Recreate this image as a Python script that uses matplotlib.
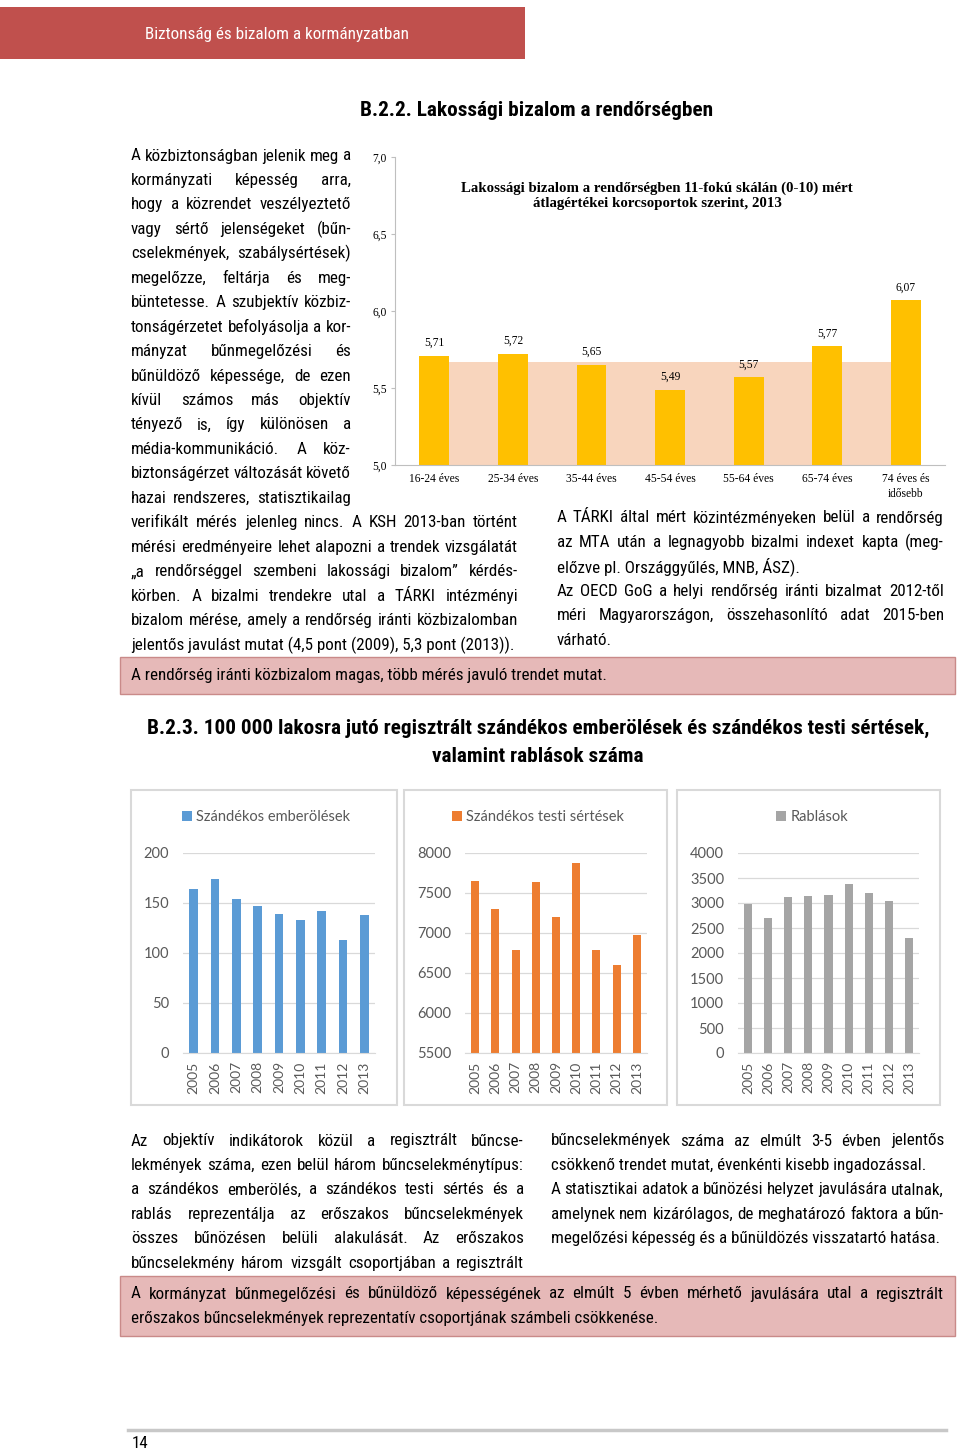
import matplotlib
matplotlib.use('Agg')
import matplotlib.pyplot as plt
from matplotlib import font_manager
from matplotlib.patches import Rectangle
from matplotlib.lines import Line2D

# ---------------- data ----------------
age_groups = ['16-24 éves', '25-34 éves', '35-44 éves', '45-54 éves',
              '55-64 éves', '65-74 éves', '74 éves és\nidősebb']
trust_values = [5.71, 5.72, 5.65, 5.49, 5.57, 5.77, 6.07]
trust_labels = ['5,71', '5,72', '5,65', '5,49', '5,57', '5,77', '6,07']
trust_avg = 5.67
trust_yticks = [5.0, 5.5, 6.0, 6.5, 7.0]
trust_yticklabels = ['5,0', '5,5', '6,0', '6,5', '7,0']

years = ['2005', '2006', '2007', '2008', '2009', '2010', '2011', '2012', '2013']
homicides = [164, 174, 154, 147, 139, 133, 142, 113, 138]
assaults = [7646, 7304, 6792, 7638, 7196, 7871, 6792, 6596, 6971]
robberies = [2987, 2707, 3113, 3133, 3160, 3387, 3193, 3040, 2293]
hom_ticks = [0, 50, 100, 150, 200]
ass_ticks = [5500, 6000, 6500, 7000, 7500, 8000]
rob_ticks = [0, 500, 1000, 1500, 2000, 2500, 3000, 3500, 4000]

header_text = 'Biztonság és bizalom a kormányzatban'
title1 = 'B.2.2. Lakossági bizalom a rendőrségben'
title2a = 'B.2.3. 100 000 lakosra jutó regisztrált szándékos emberölések és szándékos testi sértések,'
title2b = 'valamint rablások száma'
chart1_title = ['Lakossági bizalom a rendőrségben 11-fokú skálán (0-10) mért',
                'átlagértékei korcsoportok szerint, 2013']

left_par = [
    ('A közbiztonságban jelenik meg a', True),
    ('kormányzati képesség arra,', True),
    ('hogy a közrendet veszélyeztető', True),
    ('vagy sértő jelenségeket (bűn-', True),
    ('cselekmények, szabálysértések)', True),
    ('megelőzze, feltárja és meg-', True),
    ('büntetesse. A szubjektív közbiz-', True),
    ('tonságérzetet befolyásolja a kor-', True),
    ('mányzat bűnmegelőzési és', True),
    ('bűnüldöző képessége, de ezen', True),
    ('kívül számos más objektív', True),
    ('tényező is, így különösen a', True),
    ('média-kommunikáció. A köz-', True),
    ('biztonságérzet változását követő', True),
    ('hazai rendszeres, statisztikailag', True),
    ('verifikált mérés jelenleg nincs. A KSH 2013-ban történt', True),
    ('mérési eredményeire lehet alapozni a trendek vizsgálatát', True),
    ('„a rendőrséggel szembeni lakossági bizalom” kérdés-', True),
    ('körben. A bizalmi trendekre utal a TÁRKI intézményi', True),
    ('bizalom mérése, amely a rendőrség iránti közbizalomban', True),
    ('jelentős javulást mutat (4,5 pont (2009), 5,3 pont (2013)).', False),
]
right_par = [
    ('A TÁRKI által mért közintézményeken belül a rendőrség', True),
    ('az MTA után a legnagyobb bizalmi indexet kapta (meg-', True),
    ('előzve pl. Országgyűlés, MNB, ÁSZ).', False),
    ('Az OECD GoG a helyi rendőrség iránti bizalmat 2012-től', True),
    ('méri Magyarországon, összehasonlító adat 2015-ben', True),
    ('várható.', False),
]
box1_text = 'A rendőrség iránti közbizalom magas, több mérés javuló trendet mutat.'
bottom_left = [
    ('Az objektív indikátorok közül a regisztrált bűncse-', True),
    ('lekmények száma, ezen belül három bűncselekménytípus:', True),
    ('a szándékos emberölés, a szándékos testi sértés és a', True),
    ('rablás reprezentálja az erőszakos bűncselekmények', True),
    ('összes bűnözésen belüli alakulását. Az erőszakos', True),
    ('bűncselekmény három vizsgált csoportjában a regisztrált', True),
]
bottom_right = [
    ('bűncselekmények száma az elmúlt 3-5 évben jelentős', True),
    ('csökkenő trendet mutat, évenkénti kisebb ingadozással.', False),
    ('A statisztikai adatok a bűnözési helyzet javulására utalnak,', True),
    ('amelynek nem kizárólagos, de meghatározó faktora a bűn-', True),
    ('megelőzési képesség és a bűnüldözés visszatartó hatása.', False),
]
box2_lines = [
    ('A kormányzat bűnmegelőzési és bűnüldöző képességének az elmúlt 5 évben mérhető javulására utal a regisztrált', True),
    ('erőszakos bűncselekmények reprezentatív csoportjának számbeli csökkenése.', False),
]
page_number = '14'

# ---------------- setup ----------------
W, H = 960, 1450
fig = plt.figure(figsize=(W / 100, H / 100), dpi=100)
fig.patch.set_facecolor('white')
renderer = fig.canvas.get_renderer()

names = {f.name for f in font_manager.fontManager.ttflist}
def fam(*cands):
    lst = [c for c in cands if c in names]
    return lst + ['DejaVu Sans'] if lst else ['DejaVu Sans']

NARROW = fam('Liberation Sans Narrow', 'Arial Narrow', 'Roboto Condensed', 'Liberation Sans')
SERIF = fam('Liberation Serif', 'DejaVu Serif')
CAL = fam('Lato', 'Open Sans', 'Liberation Sans')
GRAY = '#595959'
DY = 2  # baseline correction in px

def fx(x): return x / W
def fy(y): return 1 - y / H

def width_of(s, size, family, weight='normal'):
    t = fig.text(0, 0, s, fontsize=size, family=family, weight=weight)
    w = t.get_window_extent(renderer).width
    t.remove()
    return w

def fit_size(s, target, family, weight='normal', base=12):
    return base * target / width_of(s, base, family, weight)

def put_line(s, x0, y, size, x1=None, justify=False, family=NARROW,
             color='black', weight='normal', ha='left'):
    y = y + DY
    if not justify:
        fig.text(fx(x0), fy(y), s, ha=ha, va='center', fontsize=size,
                 family=family, color=color, weight=weight)
        return
    words = s.split(' ')
    ws = [width_of(w, size, family, weight) for w in words]
    gap = (x1 - x0 - sum(ws)) / max(len(words) - 1, 1)
    x = x0
    for w, wd in zip(words, ws):
        fig.text(fx(x), fy(y), w, ha='left', va='center', fontsize=size,
                 family=family, color=color, weight=weight)
        x += wd + gap

BODY = fit_size('jelentős javulást mutat (4,5 pont (2009), 5,3 pont (2013)).', 383, NARROW)
TITLE = fit_size(title2a, 783, NARROW, 'bold')
LS = 24.45

# ---------------- header ----------------
fig.patches.append(Rectangle((0, fy(59)), fx(525), (59 - 7) / H,
                             transform=fig.transFigure, facecolor='#C0504D',
                             edgecolor='none'))
hsize = fit_size(header_text, 263, NARROW)
put_line(header_text, 145, 32, hsize, color='white')

put_line(title1, 360, 109, TITLE, weight='bold')

# ---------------- paragraphs ----------------
for i, (s, j) in enumerate(left_par):
    x1 = 351 if i < 15 else 518
    put_line(s, 131, 154 + i * LS, BODY, x1=x1, justify=j)
for i, (s, j) in enumerate(right_par):
    put_line(s, 557, 516 + i * LS, BODY, x1=944, justify=j)

fig.patches.append(Rectangle((fx(120), fy(694)), (955 - 120) / W, (694 - 657) / H,
                             transform=fig.transFigure, facecolor='#E6B9B8',
                             edgecolor='#C98A89', linewidth=1))
put_line(box1_text, 131, 674, BODY)

# ---------------- top chart ----------------
ax1 = fig.add_axes([fx(395), fy(465), (945 - 395) / W, (465 - 157) / H])
xs = list(range(len(age_groups)))
ax1.fill_between([xs[0], xs[-1]], [5.0, 5.0], [trust_avg, trust_avg],
                 color='#F8D5BD', linewidth=0, zorder=1)
bars = ax1.bar(xs, trust_values, width=0.38, color='#FFC000', zorder=2)
for b, lab in zip(bars, trust_labels):
    ax1.annotate(lab, (b.get_x() + b.get_width() / 2, b.get_height()),
                 xytext=(0, 5), textcoords='offset points', ha='center',
                 va='bottom', fontsize=8.3, family=SERIF)
ax1.set_ylim(5.0, 7.0)
ax1.set_xlim(-0.5, 6.5)
ax1.set_yticks(trust_yticks)
ax1.set_yticklabels(trust_yticklabels, family=SERIF, fontsize=8.3)
ax1.set_xticks(xs)
ax1.set_xticklabels(age_groups, family=SERIF, fontsize=8.3, linespacing=1.25)
ax1.tick_params(axis='x', length=0, pad=6)
ax1.tick_params(axis='y', length=3, color='#BFBFBF', pad=3)
for sp in ['top', 'right']:
    ax1.spines[sp].set_visible(False)
for sp in ['left', 'bottom']:
    ax1.spines[sp].set_color('#BFBFBF')
ax1.patch.set_alpha(0)
ctsize = fit_size(chart1_title[0], 392, SERIF, 'bold', base=10)
put_line(chart1_title[0], 657, 186, ctsize, family=SERIF, weight='bold', ha='center')
put_line(chart1_title[1], 657, 202, ctsize, family=SERIF, weight='bold', ha='center')

# ---------------- B.2.3 ----------------
put_line(title2a, 538, 726, TITLE, weight='bold', ha='center')
put_line(title2b, 538, 755, TITLE, weight='bold', ha='center')

panels = [
    (131, 397, 183, 375, homicides, hom_ticks, '#5B9BD5', 'Szándékos emberölések', 266),
    (404, 667, 465, 647, assaults, ass_ticks, '#ED7D31', 'Szándékos testi sértések', 538),
    (677, 940, 738, 919, robberies, rob_ticks, '#A5A5A5', 'Rablások', 812),
]
for (bx0, bx1, px0, px1, vals, ticks, col, name, lx) in panels:
    fig.patches.append(Rectangle((fx(bx0), fy(1105)), (bx1 - bx0) / W, (1105 - 790) / H,
                                 transform=fig.transFigure, facecolor='none',
                                 edgecolor='#D9D9D9', linewidth=1.5))
    ax = fig.add_axes([fx(px0), fy(1053), (px1 - px0) / W, 200 / H])
    bc = ax.bar(range(len(years)), vals, width=0.4, color=col, zorder=2,
                label=name)
    ax.set_ylim(ticks[0], ticks[-1])
    ax.set_xlim(-0.5, len(years) - 0.5)
    ax.set_yticks(ticks)
    ax.set_yticklabels([str(t) for t in ticks], family=CAL, fontsize=10.5, color=GRAY)
    ax.set_xticks(range(len(years)))
    ax.set_xticklabels(years, rotation=90, family=CAL, fontsize=10, color=GRAY)
    ax.tick_params(length=0)
    ax.tick_params(axis='y', pad=10)
    ax.tick_params(axis='x', pad=6)
    ax.grid(axis='y', color='#D9D9D9', linewidth=0.9, zorder=0)
    ax.set_axisbelow(True)
    for sp in ['top', 'right', 'left']:
        ax.spines[sp].set_visible(False)
    ax.spines['bottom'].set_color('#D9D9D9')
    ax.patch.set_alpha(0)
    ax.legend(handles=[bc], loc='center', bbox_to_anchor=(fx(lx), fy(817)),
              bbox_transform=fig.transFigure, frameon=False,
              handlelength=0.7, handleheight=0.7, handletextpad=0.3,
              prop={'family': CAL, 'size': 10.5}, labelcolor=GRAY)

# ---------------- bottom text ----------------
for i, (s, j) in enumerate(bottom_left):
    put_line(s, 131, 1139 + i * LS, BODY, x1=524, justify=j)
for i, (s, j) in enumerate(bottom_right):
    put_line(s, 551, 1139 + i * LS, BODY, x1=944, justify=j)

fig.patches.append(Rectangle((fx(120), fy(1336)), (955 - 120) / W, (1336 - 1276) / H,
                             transform=fig.transFigure, facecolor='#E6B9B8',
                             edgecolor='#C98A89', linewidth=1))
for i, (s, j) in enumerate(box2_lines):
    put_line(s, 131, 1292 + i * LS, BODY, x1=944, justify=j)

# ---------------- footer ----------------
fig.lines.append(Line2D([fx(128), fx(946)], [fy(1430), fy(1430)],
                        transform=fig.transFigure, color='#C8C8C8', linewidth=2.5))
put_line(page_number, 132, 1442, BODY)

fig.savefig('out.png', dpi=100, facecolor='white')
